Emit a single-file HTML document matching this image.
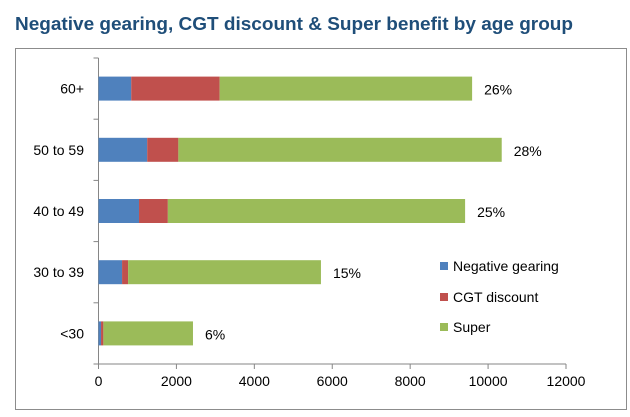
<!DOCTYPE html>
<html><head><meta charset="utf-8"><style>
html,body{margin:0;padding:0;background:#fff;}
svg{display:block;font-family:"Liberation Sans",Arial,sans-serif;}
</style></head><body>
<svg id="chart" width="630" height="417" viewBox="0 0 630 417">
<text x="15" y="30" font-size="18" font-weight="bold" fill="#1F4E79" textLength="558" lengthAdjust="spacingAndGlyphs">Negative gearing, CGT discount &amp; Super benefit by age group</text>
<rect x="15.5" y="48.5" width="611" height="361" fill="#fff" stroke="#8c8c8c"/>
<g id="plot"></g>
</svg>
<script>
const categories = ["60+", "50 to 59", "40 to 49", "30 to 39", "<30"];
const negativeGearing = [840, 1250, 1040, 605, 65];
const cgtDiscount = [2270, 800, 740, 155, 60];
const superBenefit = [6480, 8300, 7630, 4950, 2300];
const shareLabels = ["26%", "28%", "25%", "15%", "6%"];
const xTicks = [0, 2000, 4000, 6000, 8000, 10000, 12000];
const seriesNames = ["Negative gearing", "CGT discount", "Super"];

const NS = "http://www.w3.org/2000/svg";
const g = document.getElementById("plot");
const x0 = 98.5, x1 = 566, xMax = 12000;
const yTop = 58, yBot = 364;
const band = (yBot - yTop) / categories.length;
const barH = 24;
const colors = ["#4F81BD", "#C0504D", "#9BBB59"];
function xs(v){ return x0 + v / xMax * (x1 - x0); }
function yc(i){ return yTop + band * (i + 0.5); }
function mk(tag, attrs){ const e = document.createElementNS(NS, tag); for (const k in attrs) e.setAttribute(k, attrs[k]); g.appendChild(e); return e; }

// axes
let ax = mk("line", {x1:x0, y1:yTop, x2:x0, y2:yBot, stroke:"#868686"});


let axx = mk("line", {x1:x0, y1:yBot, x2:x1, y2:yBot, stroke:"#868686"});


for (let i = 0; i <= categories.length; i++) {
  const t = mk("line", {x1:x0-5, y1:yTop + band*i, x2:x0, y2:yTop + band*i, stroke:"#868686"});
  
  
}
xTicks.forEach(v => {
  const t = mk("line", {x1:xs(v), y1:yBot, x2:xs(v), y2:yBot+5, stroke:"#868686"});
  
  
  const l = mk("text", {x:xs(v), y:yBot+22, "font-size":14, "text-anchor":"middle", fill:"#000"});
  l.textContent = String(v);
  
  
});

categories.forEach((c, i) => {
  const cy = yc(i);
  const lab = mk("text", {x:84, y:cy+5, "font-size":14, "text-anchor":"end", fill:"#000"});
  lab.textContent = c;
  
  
  const vals = [negativeGearing[i], cgtDiscount[i], superBenefit[i]];
  let acc = 0;
  vals.forEach((v, s) => {
    const r = mk("rect", {x:xs(acc), y:cy - barH/2, width:xs(acc+v)-xs(acc), height:barH, fill:colors[s]});
    
    
    acc += v;
  });
  const pl = mk("text", {x:xs(acc)+12, y:cy+6, "font-size":14, fill:"#000"});
  pl.textContent = shareLabels[i];
  
  
});

// legend
const legY = [266, 297, 327];
seriesNames.forEach((n, s) => {
  const sq = mk("rect", {x:440, y:legY[s]-4, width:8, height:8, fill:colors[s]});
  
  
  const t = mk("text", {x:453, y:legY[s]+5, "font-size":14, fill:"#000"});
  t.textContent = n;
  
  
});
</script>
</body></html>
